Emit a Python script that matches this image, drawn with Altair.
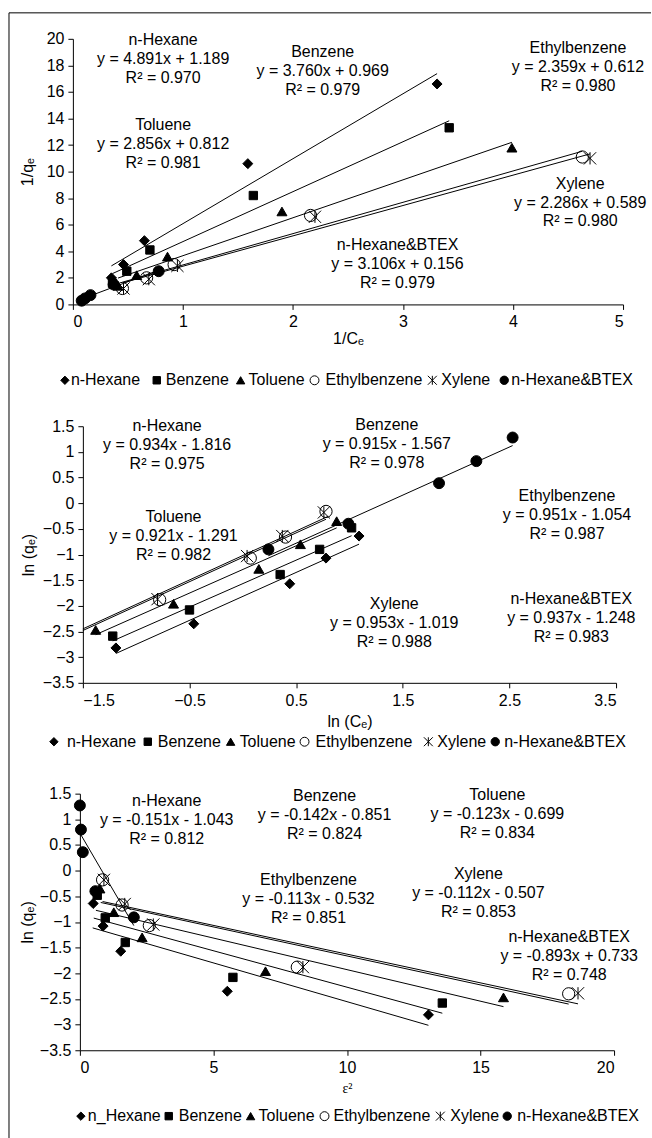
import altair as alt
import pandas as pd

FONT = "Liberation Sans"
FS = 16

SERIES = ["n-Hexane", "Benzene", "Toluene", "Ethylbenzene", "Xylene", "n-Hexane&BTEX"]
SERIES_P3 = ["n_Hexane", "Benzene", "Toluene", "Ethylbenzene", "Xylene", "n-Hexane&BTEX"]
SHAPES = ["diamond", "square", "triangle-up", "circle",
          "M-1,-1L1,1M1,-1L-1,1M0,-1L0,1", "circle"]
FILLS = ["black", "black", "black", "transparent", "transparent", "black"]
SIZES = [100, 70, 100, 150, 150, 120]
LEG_SIZES = [70, 55, 70, 80, 80, 70]

# ---------------- Panel 1 : 1/Ce vs 1/qe ----------------
P1_X = [[0.35, 0.46, 0.65, 1.59, 3.31],
        [0.36, 0.49, 0.70, 1.64, 3.42],
        [0.41, 0.58, 0.86, 1.90, 3.99],
        [0.45, 0.67, 0.92, 2.16, 4.63],
        [0.46, 0.69, 0.95, 2.20, 4.70],
        [0.08, 0.11, 0.16, 0.37, 0.78]]
P1_Y = [[2.0, 3.0, 4.8, 10.6, 16.6],
        [1.6, 2.5, 4.1, 8.2, 13.3],
        [1.4, 2.2, 3.6, 7.0, 11.8],
        [1.2, 2.0, 3.0, 6.7, 11.1],
        [1.2, 1.9, 2.9, 6.6, 11.0],
        [0.28, 0.45, 0.70, 1.5, 2.5]]
P1_SLOPE = [4.891, 3.760, 2.856, 2.359, 2.286, 3.106]
P1_ICPT = [1.189, 0.969, 0.812, 0.612, 0.589, 0.156]
P1_R2 = [0.970, 0.979, 0.981, 0.980, 0.980, 0.979]
P1_LINE_FROM = [0.35, 0.36, 0.41, 0.45, 0.46, 0.08]
P1_LINE_TO = [3.31, 3.42, 3.99, 4.63, 4.70, 0.78]
P1_LAB_X = [0.82, 2.27, 0.82, 4.59, 4.61, 2.95]
P1_LAB_Y = [19.9, 19.0, 13.5, 19.3, 9.1, 4.5]

# ---------------- Panel 2 : ln Ce vs ln qe ----------------
P2_X = [[-1.19, -0.46, 0.44, 0.78, 1.09],
        [-1.22, -0.50, 0.35, 0.72, 1.02],
        [-1.38, -0.65, 0.15, 0.54, 0.88],
        [-0.78, 0.07, 0.40, 0.78],
        [-0.80, 0.04, 0.37, 0.76],
        [0.24, 0.99, 1.84, 2.19, 2.53]]
P2_Y = [[-2.82, -2.35, -1.57, -1.07, -0.64],
        [-2.59, -2.08, -1.39, -0.90, -0.48],
        [-2.47, -1.96, -1.28, -0.80, -0.35],
        [-1.88, -1.07, -0.66, -0.16],
        [-1.87, -1.03, -0.64, -0.18],
        [-0.90, -0.40, 0.39, 0.82, 1.28]]
P2_SLOPE = [0.934, 0.915, 0.921, 0.951, 0.953, 0.937]
P2_ICPT = [-1.816, -1.567, -1.291, -1.054, -1.019, -1.248]
P2_R2 = [0.975, 0.978, 0.982, 0.987, 0.988, 0.983]
P2_LINE_FROM = [-1.19, -1.22, -1.38, -1.50, -1.50, 0.24]
P2_LINE_TO = [1.09, 1.02, 0.88, 0.78, 0.80, 2.53]
P2_LAB_X = [-0.71, 1.35, -0.65, 3.04, 1.42, 3.08]
P2_LAB_Y = [1.50, 1.52, -0.27, 0.14, -1.96, -1.87]

# ---------------- Panel 3 : epsilon^2 vs ln qe ----------------
P3_X = [[0.50, 0.87, 1.53, 5.52, 13.05],
        [0.65, 0.95, 1.70, 5.73, 13.57],
        [0.75, 1.27, 2.33, 6.95, 15.86],
        [0.85, 1.58, 2.60, 8.14, 18.30],
        [0.90, 1.68, 2.75, 8.35, 18.65],
        [0.00, 0.04, 0.11, 0.58, 2.02]]
P3_Y = [[-0.64, -1.08, -1.57, -2.35, -2.81],
        [-0.48, -0.92, -1.40, -2.08, -2.58],
        [-0.35, -0.81, -1.30, -1.96, -2.47],
        [-0.18, -0.67, -1.07, -1.88, -2.40],
        [-0.18, -0.65, -1.05, -1.88, -2.39],
        [1.27, 0.80, 0.36, -0.40, -0.91]]
P3_SLOPE = [-0.151, -0.142, -0.123, -0.113, -0.112, -0.893]
P3_ICPT = [-1.043, -0.851, -0.699, -0.532, -0.507, 0.733]
P3_R2 = [0.812, 0.824, 0.834, 0.851, 0.853, 0.748]
P3_LINE_FROM = [0.48, 0.52, 0.60, 0.78, 0.85, 0.00]
P3_LINE_TO = [13.05, 13.57, 15.86, 18.30, 18.65, 2.02]
P3_LAB_X = [3.25, 9.16, 15.63, 8.56, 14.92, 18.32]
P3_LAB_Y = [1.36, 1.46, 1.48, -0.19, -0.06, -1.30]

X1_TICKS = [0, 1, 2, 3, 4, 5]
Y1_TICKS = [0, 2, 4, 6, 8, 10, 12, 14, 16, 18, 20]
X2_TICKS = [-1.5, -0.5, 0.5, 1.5, 2.5, 3.5]
Y23_TICKS = [1.5, 1, 0.5, 0, -0.5, -1, -1.5, -2, -2.5, -3, -3.5]
X3_TICKS = [0, 5, 10, 15, 20]

# legend layout (pixel positions on the page: symbol centre, label start, row y)
P1_LEG_SYM = [64, 156, 240, 314, 432, 504]
P1_LEG_TXT = [70, 165, 248, 325, 441, 511]
P1_LEG_ROW = 379
P2_LEG_SYM = [53, 147, 230, 304, 428, 495]
P2_LEG_TXT = [66, 157, 239, 315, 437, 504]
P2_LEG_ROW = 741
P3_LEG_SYM = [80, 168, 250, 324, 440, 507]
P3_LEG_TXT = [87, 178, 258, 333, 450, 517]
P3_LEG_ROW = 1116


def eq_text(s, b):
    sign = "+" if b >= 0 else "-"
    return f"y = {s:.3f}x {sign} {abs(b):.3f}"


def panel(names, X, Y, slopes, icpts, r2s, lfrom, lto, labx, laby,
          xdom, ydom, xticks, yticks, width, height, xrange, yrange,
          xtitle, ytitle, yoffset, ytp, xlp, xtp, page_box,
          leg_sym, leg_txt, leg_row,
          xtitle_font=FONT, xtitle_size=FS, border=False):
    st = [dict(shape=SHAPES[i], fill=FILLS[i]) for i in range(6)]
    pts = pd.DataFrame([{"series": n, "x": a, "y": b, "size": SIZES[i], **st[i]}
                        for i, (n, xs, ys) in enumerate(zip(names, X, Y))
                        for a, b in zip(xs, ys)])
    lns = pd.DataFrame([{"series": n, "x": a, "y": s * a + c}
                        for n, s, c, f, t in zip(names, slopes, icpts, lfrom, lto)
                        for a in (f, t)])
    labs = pd.DataFrame({"x": labx, "y": laby, "name": SERIES,
                         "eq": [eq_text(s, c) for s, c in zip(slopes, icpts)],
                         "r2": [f"R\u00b2 = {r:.3f}" for r in r2s]})

    # page-pixel -> data conversion for legend placement
    L, R, T, B = page_box

    def px2x(px):
        return xdom[0] + (px - L) / (R - L) * (xdom[1] - xdom[0])

    def py2y(py):
        return ydom[1] - (py - T) / (B - T) * (ydom[1] - ydom[0])

    leg_pts = pd.DataFrame([{"x": px2x(leg_sym[i]), "y": py2y(leg_row),
                             "size": LEG_SIZES[i], **st[i]} for i in range(6)])
    leg_txt_df = pd.DataFrame([{"x": px2x(leg_txt[i]), "y": py2y(leg_row),
                                "label": names[i]} for i in range(6)])

    xs_kw = dict(domain=xdom, nice=False, zero=False)
    if xrange is not None:
        xs_kw["range"] = xrange
    ys_kw = dict(domain=ydom, nice=False, zero=False)
    if yrange is not None:
        ys_kw["range"] = yrange
    xscale = alt.Scale(**xs_kw)
    yscale = alt.Scale(**ys_kw)
    xaxis = alt.Axis(values=xticks, title=xtitle, format=".2~f",
                     labelPadding=xlp, titlePadding=xtp, titleFont=xtitle_font,
                     titleFontSize=xtitle_size)
    yaxis = alt.Axis(values=yticks, title=ytitle, format=".2~f",
                     offset=yoffset, titlePadding=ytp, labelPadding=4)
    X_ = alt.X("x:Q", scale=xscale, axis=xaxis)
    Y_ = alt.Y("y:Q", scale=yscale, axis=yaxis)

    lines = alt.Chart(lns).mark_line(color="black", strokeWidth=1).encode(
        x=X_, y=Y_, detail="series:N")
    pmark = dict(opacity=1, stroke="black", strokeWidth=1)
    points = alt.Chart(pts).mark_point(**pmark).encode(
        x=X_, y=Y_,
        shape=alt.Shape("shape:N", scale=None),
        fill=alt.Fill("fill:N", scale=None),
        size=alt.Size("size:Q", scale=None))
    legp = alt.Chart(leg_pts).mark_point(**pmark).encode(
        x=X_, y=Y_,
        shape=alt.Shape("shape:N", scale=None),
        fill=alt.Fill("fill:N", scale=None),
        size=alt.Size("size:Q", scale=None))
    legt = alt.Chart(leg_txt_df).mark_text(font=FONT, fontSize=FS, color="black",
                                           align="left", baseline="middle").encode(
        x=X_, y=Y_, text="label:N")
    tk = dict(font=FONT, fontSize=FS, color="black", align="center", baseline="middle")
    t1 = alt.Chart(labs).mark_text(**tk).encode(x=X_, y=Y_, text="name:N")
    t2 = alt.Chart(labs).mark_text(dy=19, **tk).encode(x=X_, y=Y_, text="eq:N")
    t3 = alt.Chart(labs).mark_text(dy=38, **tk).encode(x=X_, y=Y_, text="r2:N")
    layers = [lines, points, t1, t2, t3, legp, legt]
    if border:
        bd = pd.DataFrame({"k": [0]})
        layers.append(alt.Chart(bd).mark_rule(color="black", strokeWidth=1).encode(
            x=alt.value(-64), y=alt.value(-26), y2=alt.value(1101)))
        layers.append(alt.Chart(bd).mark_rule(color="black", strokeWidth=1).encode(
            x=alt.value(-64), x2=alt.value(579), y=alt.value(-26)))
    return alt.layer(*layers).properties(width=width, height=height)


p1 = panel(SERIES, P1_X, P1_Y, P1_SLOPE, P1_ICPT, P1_R2, P1_LINE_FROM, P1_LINE_TO,
           P1_LAB_X, P1_LAB_Y, [0, 5], [0, 20], X1_TICKS, Y1_TICKS, 551, 266,
           None, None, "1/C\u2091", "1/q\u2091", 0, 11, 4, 1,
           (72, 623, 37, 303), P1_LEG_SYM, P1_LEG_TXT, P1_LEG_ROW, border=True)
p2 = panel(SERIES, P2_X, P2_Y, P2_SLOPE, P2_ICPT, P2_R2, P2_LINE_FROM, P2_LINE_TO,
           P2_LAB_X, P2_LAB_Y, [-1.5, 3.5], [-3.5, 1.5], X2_TICKS, Y23_TICKS, 544, 268,
           [10, 544], [268, 11], "ln (C\u2091)", "ln (q\u2091)", -10, 6, 5, 5,
           (82, 616, 425, 682), P2_LEG_SYM, P2_LEG_TXT, P2_LEG_ROW)
p3 = panel(SERIES_P3, P3_X, P3_Y, P3_SLOPE, P3_ICPT, P3_R2, P3_LINE_FROM, P3_LINE_TO,
           P3_LAB_X, P3_LAB_Y, [0, 20], [-3.5, 1.5], X3_TICKS, Y23_TICKS, 542, 257,
           [7, 542], None, "\u03b5\u00b2", "ln (q\u2091)", -7, 4, 4, 6,
           (79, 614, 793, 1050), P3_LEG_SYM, P3_LEG_TXT, P3_LEG_ROW,
           xtitle_font="Liberation Serif", xtitle_size=14)

chart = alt.vconcat(p1, p2, p3, spacing=111, bounds="flush",
                    padding={"left": 8, "top": 11, "right": 0, "bottom": 0}
                    ).configure_view(stroke="transparent"
                    ).configure_axis(grid=False, domainColor="black", tickColor="black",
                                     labelColor="black", titleColor="black",
                                     labelFont=FONT, titleFont=FONT, labelFontSize=FS,
                                     titleFontSize=FS, titleFontWeight="normal",
                                     tickSize=5, domainWidth=1, tickWidth=1
                    ).properties(background="white")

chart.save("out.html", embed_options={"renderer": "svg", "actions": False})
